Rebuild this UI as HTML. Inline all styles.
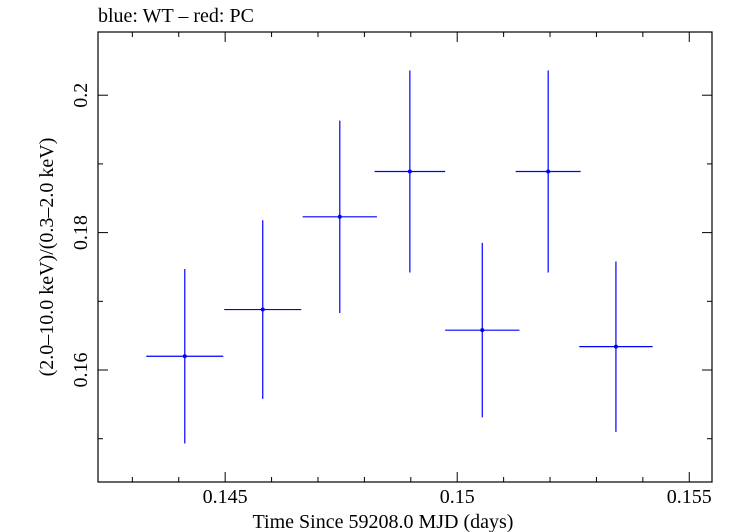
<!DOCTYPE html>
<html><head><meta charset="utf-8"><style>
html,body{margin:0;padding:0;background:#fff;}
svg{display:block;font-family:"Liberation Serif",serif;}
</style></head><body>
<svg id="chart" width="732" height="532">
<text x="98" y="22" font-size="20">blue: WT – red: PC</text>
<rect x="98" y="32" width="614" height="450" fill="none" stroke="#000" stroke-width="1.2"/>
<g id="ticks"></g>
<g id="marks"></g>
<text x="383" y="528" font-size="20" text-anchor="middle">Time Since 59208.0 MJD (days)</text>
<text transform="translate(53,257) rotate(-90)" font-size="20" text-anchor="middle">(2.0–10.0 keV)/(0.3–2.0 keV)</text>
</svg>
<script>
const xVals=[0.14413,0.14581,0.14747,0.14898,0.15054,0.15196,0.15342];
const xErr=[0.00083,0.00083,0.00080,0.00076,0.00080,0.00070,0.00079];
const yVals=[0.1620,0.1688,0.1823,0.1889,0.1658,0.1889,0.1634];
const yErr=[0.0127,0.0130,0.0140,0.0147,0.0127,0.0147,0.0124];
const xTicks=[0.145,0.15,0.155];
const xTickLabels=["0.145","0.15","0.155"];
const yTicks=[0.16,0.18,0.2];
const yTickLabels=["0.16","0.18","0.2"];
const L=98,R=712,T=32,B=482;
const X0=0.14226,X1=0.15549,Y0=0.1437,Y1=0.2092;
const sx=v=>L+(v-X0)/(X1-X0)*(R-L);
const sy=v=>B-(v-Y0)/(Y1-Y0)*(B-T);
const NS="http://www.w3.org/2000/svg";
function mk(tag,attrs,parent){const e=document.createElementNS(NS,tag);for(const k in attrs)e.setAttribute(k,attrs[k]);parent.appendChild(e);return e;}
const tg=document.getElementById('ticks');
for(let i=143;i<=155;i++){const v=i/1000,x=sx(v);if(x<L||x>R)continue;const major=i%5===0;const len=major?10:5;
 let t=mk('line',{x1:x,x2:x,y1:B,y2:B-len,stroke:'#000'},tg);
 
 
 let t2=mk('line',{x1:x,x2:x,y1:T,y2:T+len,stroke:'#000'},tg);
 
 }
for(let i=15;i<=20;i++){const v=i/100,y=sy(v);const major=i%2===0;const len=major?10:5;
 let t=mk('line',{x1:L,x2:L+len,y1:y,y2:y,stroke:'#000'},tg);
 
 
 let t2=mk('line',{x1:R,x2:R-len,y1:y,y2:y,stroke:'#000'},tg);
 
 }
xTicks.forEach((v,i)=>{const t=mk('text',{x:sx(v),y:503,'font-size':20,'text-anchor':'middle'},tg);t.textContent=xTickLabels[i];
 
 });
yTicks.forEach((v,i)=>{const t=mk('text',{transform:`translate(87,${sy(v)}) rotate(-90)`,'font-size':20,'text-anchor':'middle'},tg);t.textContent=yTickLabels[i];
 
 });
const mg=document.getElementById('marks');
xVals.forEach((xv,i)=>{const g=mk('g',{},mg);
 
 
 const x=sx(xv),y=sy(yVals[i]);
 mk('line',{x1:sx(xv-xErr[i]),x2:sx(xv+xErr[i]),y1:y,y2:y,stroke:'#0000ff','stroke-width':1.2},g);
 mk('line',{x1:x,x2:x,y1:sy(yVals[i]+yErr[i]),y2:sy(yVals[i]-yErr[i]),stroke:'#0000ff','stroke-width':1.2},g);
 mk('circle',{cx:x,cy:y,r:2,fill:'#0000ff'},g);});
</script>
</body></html>
